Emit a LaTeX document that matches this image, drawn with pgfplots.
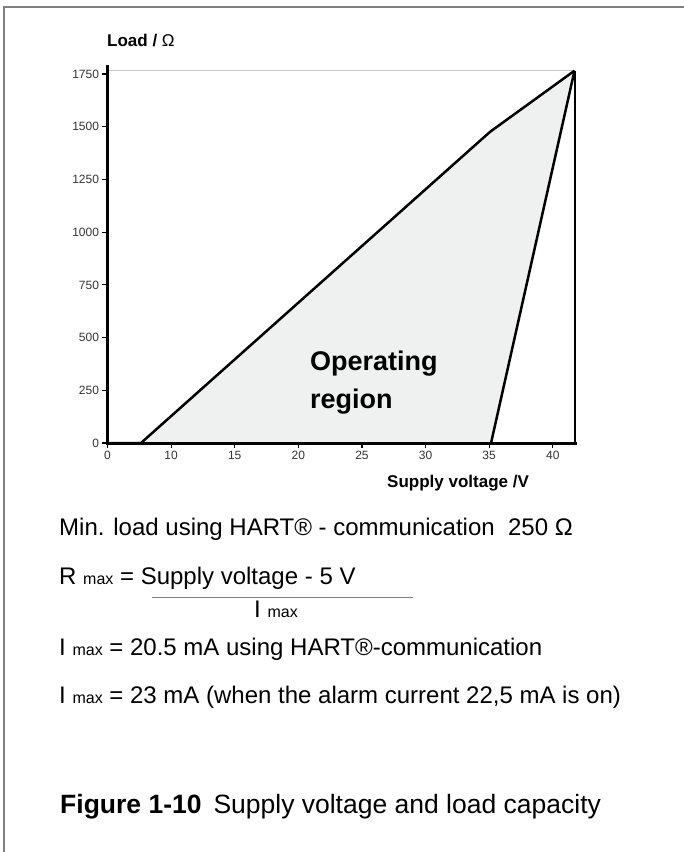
\documentclass[border=0pt]{standalone}
\usepackage{fontspec}
\setmainfont{Liberation Sans}
\usepackage{pgfplots}
\pgfplotsset{compat=1.18}
\definecolor{fillgray}{HTML}{EFF0F0}
\definecolor{framegray}{HTML}{808080}
\newcommand{\sub}[1]{{\fontsize{16}{16}\selectfont #1}}
\begin{document}
\begin{tikzpicture}[x=1pt,y=1pt]
\path[use as bounding box] (0,0) rectangle (684,-852);
\draw[framegray, line width=2pt] (4,-852) -- (4,-6.5) -- (684,-6.5);
\begin{axis}[
  at={(107.5pt,-443pt)}, anchor=south west,
  scale only axis, width=467pt, height=372.3pt,
  xmin=5, xmax=41.71, ymin=0, ymax=1766,
  axis line style={draw=none},
  xtick={5,10,15,20,25,30,35,40}, xticklabels={0,10,15,20,25,30,35,40},
  ytick={0,250,500,750,1000,1250,1500,1750},
  tick align=outside, major tick length=5pt,
  tick style={black, line width=1.2pt},
  tick pos=left,
  ticklabel style={font=\fontsize{12}{12}\selectfont, text=black!80},
  /pgf/number format/assume math mode=true,
  /pgf/number format/1000 sep={},
  clip=false,
]
\addplot[fill=fillgray, draw=none] coordinates {(7.63,0) (35.07,1476) (41.71,1766) (35.15,0)};
\draw[gray!45, line width=1pt] (axis cs:5,1766) -- (axis cs:41.71,1766);
\draw[black, line width=2pt] (axis cs:41.71,0) -- (axis cs:41.71,1766);
\draw[black, line width=3pt] (axis cs:5,1793) -- (axis cs:5,0) -- (axis cs:41.9,0);
\addplot[black, line width=2.5pt, line join=round] coordinates {(5,0) (7.63,0) (35.07,1476) (41.71,1766)};
\addplot[black, line width=2.5pt, line join=round] coordinates {(35.15,0) (41.71,1766)};
\end{axis}
\begin{scope}[every node/.style={inner sep=0pt, anchor=base west}]
\node[font=\fontsize{17}{17}\selectfont\bfseries] at (107,-46) {Load / \mdseries Ω};
\node[font=\fontsize{17}{17}\selectfont\bfseries] at (387,-487) {Supply voltage /V};
\node[font=\fontsize{27}{27}\selectfont\bfseries] at (310,-370) {Operating};
\node[font=\fontsize{27}{27}\selectfont\bfseries] at (310,-408) {region};
\node[font=\fontsize{24}{24}\selectfont] at (59,-535) {Min. load using HART® - communication\ \ 250 Ω};
\node[font=\fontsize{24}{24}\selectfont] at (59,-584) {R \sub{max} = Supply voltage - 5 V};
\draw[gray, line width=1pt] (152,-597) -- (413,-597);
\node[font=\fontsize{24}{24}\selectfont] at (254,-617) {I \sub{max}};
\node[font=\fontsize{24}{24}\selectfont] at (59,-655) {I \sub{max} = 20.5 mA using HART®-communication};
\node[font=\fontsize{24}{24}\selectfont] at (59,-703) {I \sub{max} = 23 mA (when the alarm current 22,5 mA is on)};
\node[font=\fontsize{26.5}{26.5}\selectfont] at (60,-813) {\textbf{Figure 1-10}\hspace{0.45em}Supply voltage and load capacity};
\end{scope}
\end{tikzpicture}
\end{document}
